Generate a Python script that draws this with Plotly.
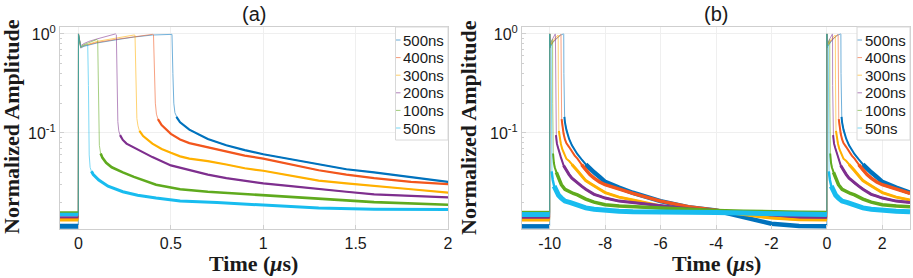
import plotly.graph_objects as go

# ---------------- data ----------------
SERIES = ["500ns", "400ns", "300ns", "200ns", "100ns", "50ns"]
COLORS = ["#0072BD", "#F2561D", "#FFB000", "#7E2F8E", "#5FAA1E", "#18BCEF"]

# time relative to pulse start (us) and normalized amplitude
t_500 = [-1.1, -0.001, 0, 0.012, 0.03, 0.056, 0.1, 0.2, 0.3, 0.4, 0.5, 0.506, 0.511, 0.516, 0.522, 0.53,
         0.54, 0.55, 0.6, 0.65, 0.7, 0.8, 0.9, 1.0, 1.15, 1.3, 1.45, 1.6, 1.8, 2.0, 2.5, 3, 4, 5, 6, 7, 8, 9, 10]
a_500 = [0.0114, 0.0114, 1.0, 0.72, 0.75, 0.77, 0.81, 0.87, 0.93, 0.975, 1.0, 0.99, 0.4, 0.2, 0.16, 0.145,
         0.135, 0.128, 0.108, 0.096, 0.087, 0.075, 0.067, 0.061, 0.054, 0.048, 0.043, 0.040, 0.036, 0.032, 0.028,
         0.0249, 0.0205, 0.0178, 0.0165, 0.0140, 0.0121, 0.0115, 0.0114]

t_400 = [-1.1, -0.001, 0, 0.012, 0.03, 0.056, 0.1, 0.2, 0.3, 0.4, 0.406, 0.411, 0.416, 0.422, 0.43, 0.45,
         0.5, 0.55, 0.6, 0.7, 0.8, 0.9, 1.0, 1.15, 1.3, 1.45, 1.6, 1.8, 2.0, 2.5, 3, 4, 5, 6, 7, 8, 9, 10]
a_400 = [0.0137, 0.0137, 1.0, 0.73, 0.76, 0.78, 0.82, 0.88, 0.94, 0.99, 0.98, 0.4, 0.2, 0.155, 0.138, 0.12,
         0.098, 0.086, 0.079, 0.072, 0.065, 0.059, 0.055, 0.048, 0.042, 0.038, 0.035, 0.032, 0.030, 0.027,
         0.0245, 0.0205, 0.018, 0.0166, 0.0153, 0.0142, 0.0138, 0.0137]

t_300 = [-1.1, -0.001, 0, 0.012, 0.03, 0.056, 0.1, 0.2, 0.3, 0.306, 0.311, 0.316, 0.322, 0.33, 0.35, 0.4,
         0.45, 0.5, 0.55, 0.6, 0.7, 0.8, 0.9, 1.0, 1.15, 1.3, 1.45, 1.6, 1.8, 2.0, 2.5, 3, 4, 5, 6, 7, 8, 9, 10]
a_300 = [0.0132, 0.0132, 1.0, 0.74, 0.77, 0.79, 0.84, 0.91, 0.975, 0.97, 0.35, 0.14, 0.118, 0.105, 0.093,
         0.078, 0.069, 0.063, 0.058, 0.055, 0.052, 0.048, 0.044, 0.0415, 0.037, 0.033, 0.031, 0.029, 0.027,
         0.025, 0.0225, 0.021, 0.0183, 0.017, 0.0163, 0.0150, 0.0138, 0.0133, 0.0132]

t_200 = [-1.1, -0.001, 0, 0.012, 0.03, 0.056, 0.1, 0.143, 0.2, 0.205, 0.209, 0.213, 0.218, 0.225, 0.24,
         0.26, 0.3, 0.35, 0.4, 0.5, 0.6, 0.7, 0.8, 0.9, 1.0, 1.15, 1.3, 1.45, 1.6, 1.8, 2.0, 2.5, 3, 4, 5, 6,
         7, 8, 9, 10]
a_200 = [0.0141, 0.0141, 1.0, 0.76, 0.8, 0.84, 0.89, 0.93, 1.0, 0.98, 0.3, 0.13, 0.105, 0.095, 0.085,
         0.078, 0.071, 0.063, 0.057, 0.047, 0.042, 0.038, 0.035, 0.033, 0.031, 0.029, 0.027, 0.0255, 0.024,
         0.023, 0.022, 0.0205, 0.0198, 0.0183, 0.0172, 0.0165, 0.0157, 0.0147, 0.0142, 0.0141]

t_100 = [-1.1, -0.001, 0, 0.012, 0.03, 0.056, 0.1, 0.104, 0.108, 0.113, 0.12, 0.13, 0.15, 0.18, 0.24, 0.3,
         0.42, 0.55, 0.7, 0.85, 1.0, 1.3, 1.6, 2.0, 2.5, 3, 4, 5, 6, 7, 8, 9, 10]
a_100 = [0.0157, 0.0157, 1.0, 0.74, 0.78, 0.82, 0.88, 0.86, 0.2, 0.075, 0.062, 0.056, 0.05, 0.045, 0.040,
         0.036, 0.030, 0.027, 0.0255, 0.0245, 0.0237, 0.0215, 0.020, 0.0188, 0.0183, 0.018, 0.0173, 0.0168,
         0.0165, 0.0162, 0.0159, 0.0158, 0.0157]

t_50 = [-1.1, -0.001, 0, 0.012, 0.03, 0.05, 0.054, 0.058, 0.063, 0.07, 0.08, 0.11, 0.16, 0.24, 0.32, 0.42,
        0.55, 0.75, 1.0, 1.3, 1.6, 2.0, 2.5, 3, 4, 5, 6, 7, 8, 9, 10]
a_50 = [0.0150, 0.0150, 1.0, 0.74, 0.76, 0.78, 0.3, 0.06, 0.045, 0.041, 0.038, 0.0335, 0.029, 0.0255,
        0.0235, 0.022, 0.0205, 0.0198, 0.0187, 0.0175, 0.017, 0.0165, 0.0162, 0.0160, 0.0160, 0.0158, 0.0157,
        0.0155, 0.0153, 0.0152, 0.0150]

TIMES = [t_500, t_400, t_300, t_200, t_100, t_50]
AMPS = [a_500, a_400, a_300, a_200, a_100, a_50]

PERIOD = 10.0            # pulse repetition period in panel (b), us
XA_TICKS = [0, 0.5, 1, 1.5, 2]
XA_LABELS = ["0", "0.5", "1", "1.5", "2"]
XB_TICKS = [-10, -8, -6, -4, -2, 0, 2]
XB_LABELS = ["-10", "-8", "-6", "-4", "-2", "0", "2"]
Y_TICKS = [0.1, 1]
Y_LABELS = ["10<sup>-1</sup>", "10<sup>0</sup>"]
Y_MINOR = [0.02, 0.03, 0.04, 0.05, 0.06, 0.07, 0.08, 0.09, 0.2, 0.3, 0.4, 0.5, 0.6, 0.7, 0.8, 0.9]

# ---------------- styles ----------------
W, H = 913, 278
NOISY_A = [0.53, 0.43, 0.33, 0.22, 0.12, 0.065]   # where the noisy (thick) tail starts, panel (a)
NOISY_B = [1.3, 1.15, 0.8, 0.5, 0.24, 0.16]       # same for panel (b)
WID_A = [2.2, 2.2, 2.2, 2.2, 2.6, 3.0]
BASE_A = [5.0, 2.0, 3.0, 2.0, 2.5, 3.5]
WID_B = [4.5, 3.5, 3.0, 3.0, 3.5, 5.0]
MID_B = [2.0, 2.0, 2.0, 2.0, 2.0, 2.5]


def px_x(p):
    return p / W


def px_y(p):
    return 1 - p / H


fig = go.Figure()


def seg(ts, vs, lo, hi, shift=0.0):
    xs, ys = [], []
    for t, v in zip(ts, vs):
        if lo <= t <= hi:
            xs.append(t + shift)
            ys.append(v)
    return xs, ys


for i, name in enumerate(SERIES):
    ts, vs, col = TIMES[i], AMPS[i], COLORS[i]
    # ---- panel (a)
    fig.add_trace(go.Scatter(x=ts, y=vs, mode="lines", line=dict(color=col, width=1), opacity=0.55,
                             name=name, showlegend=False, xaxis="x", yaxis="y"))
    bx, by = seg(ts, vs, -2, -0.0005)
    tx, ty = seg(ts, vs, NOISY_A[i], 20)
    fig.add_trace(go.Scatter(x=bx, y=by, mode="lines", line=dict(color=col, width=BASE_A[i]),
                             showlegend=False, xaxis="x", yaxis="y"))
    fig.add_trace(go.Scatter(x=tx, y=ty, mode="lines", line=dict(color=col, width=WID_A[i]),
                             showlegend=False, xaxis="x", yaxis="y"))
    # ---- panel (b): two periods
    x1, y1 = seg(ts, vs, -2, PERIOD, -PERIOD)
    x2, y2 = seg(ts, vs, 0, 3.5, 0.0)
    fig.add_trace(go.Scatter(x=x1 + x2, y=y1 + y2, mode="lines", line=dict(color=col, width=1), opacity=0.55,
                             showlegend=False, xaxis="x2", yaxis="y2"))
    mx1, my1 = seg(ts, vs, NOISY_A[i], PERIOD, -PERIOD)
    mx2, my2 = seg(ts, vs, NOISY_A[i], 3.5, 0.0)
    fig.add_trace(go.Scatter(x=mx1 + [None] + mx2, y=my1 + [None] + my2, mode="lines",
                             line=dict(color=col, width=MID_B[i]), connectgaps=False,
                             showlegend=False, xaxis="x2", yaxis="y2"))
    bx1, by1 = seg(ts, vs, -2, -0.0005, -PERIOD)
    nx1, ny1 = seg(ts, vs, NOISY_B[i], PERIOD, -PERIOD)
    nx2, ny2 = seg(ts, vs, NOISY_B[i], 3.5, 0.0)
    fig.add_trace(go.Scatter(x=bx1 + [None] + nx1 + [None] + nx2, y=by1 + [None] + ny1 + [None] + ny2,
                             mode="lines", line=dict(color=col, width=WID_B[i]), connectgaps=False,
                             showlegend=False, xaxis="x2", yaxis="y2"))

AX_LINE = "#cfcfcf"
TICK_FONT = dict(family="Liberation Sans, Arial, sans-serif", size=16, color="#1a1a1a")
TITLE_FONT = dict(family="Liberation Serif, Times New Roman, serif", size=22, color="#1a1a1a")

common_x = dict(showline=True, linecolor=AX_LINE, linewidth=1, mirror=True, ticks="inside", ticklen=4,
                tickcolor=AX_LINE, showgrid=True, gridcolor="#efefef", zeroline=False, tickfont=TICK_FONT,
                tickmode="array", automargin=False)
common_y = dict(type="log", range=[-1.97, 0.07], showline=True, linecolor=AX_LINE, linewidth=1, mirror=True,
                ticks="inside", ticklen=4, tickcolor=AX_LINE, showgrid=True, gridcolor="#efefef",
                zeroline=False, tickfont=TICK_FONT, tickmode="array", tickvals=Y_TICKS, ticktext=Y_LABELS,
                automargin=False,
                minor=dict(tickmode="array", tickvals=Y_MINOR, ticks="inside", ticklen=2, tickcolor=AX_LINE,
                           showgrid=False))

fig.update_layout(
    width=W, height=H, margin=dict(l=0, r=0, t=0, b=0, autoexpand=False), paper_bgcolor="white",
    plot_bgcolor="white", showlegend=False,
    xaxis=dict(domain=[px_x(60), px_x(448)], range=[-0.1, 2], tickvals=XA_TICKS, ticktext=XA_LABELS,
               anchor="y", **common_x),
    yaxis=dict(domain=[px_y(229), px_y(27)], anchor="x", **common_y),
    xaxis2=dict(domain=[px_x(522), px_x(910)], range=[-11, 3], tickvals=XB_TICKS, ticktext=XB_LABELS,
                anchor="y2", **common_x),
    yaxis2=dict(domain=[px_y(229), px_y(27)], anchor="x2", **common_y),
)

# panel titles and axis titles
for xc, txt in [((60 + 448) / 2, "(a)"), ((522 + 910) / 2, "(b)")]:
    fig.add_annotation(x=px_x(xc), y=px_y(14), xref="paper", yref="paper", text=txt, showarrow=False,
                       font=dict(family="Liberation Sans, Arial, sans-serif", size=20, color="#1a1a1a"),
                       xanchor="center", yanchor="middle")
    fig.add_annotation(x=px_x(xc), y=px_y(263), xref="paper", yref="paper", text="<b>Time (<i>μ</i>s)</b>",
                       showarrow=False, font=TITLE_FONT, xanchor="center", yanchor="middle")
for xc in [11, 468]:
    fig.add_annotation(x=px_x(xc), y=px_y(127), xref="paper", yref="paper", text="<b>Normalized Amplitude</b>",
                       showarrow=False, font=TITLE_FONT, textangle=-90, xanchor="center", yanchor="middle")

# legends (MATLAB style: short line stub + label inside a white box)
LEG_FONT = dict(family="Liberation Sans, Arial, sans-serif", size=15, color="#1a1a1a")
for left, right in [(395.5, 448), (857, 910)]:
    fig.add_shape(type="rect", xref="paper", yref="paper", x0=px_x(left), x1=px_x(right), y0=px_y(140),
                  y1=px_y(27), line=dict(color="#d8d8d8", width=1), fillcolor="white", layer="above")
    for k, name in enumerate(SERIES):
        yc = 40 + k * 17.6
        fig.add_shape(type="line", xref="paper", yref="paper", x0=px_x(left + 0.5), x1=px_x(left + 5),
                      y0=px_y(yc), y1=px_y(yc), line=dict(color=COLORS[k], width=1), layer="above",
                      opacity=0.6)
        fig.add_annotation(x=px_x(left + 5.5), y=px_y(yc), xref="paper", yref="paper", text=name,
                           showarrow=False, font=LEG_FONT, xanchor="left", yanchor="middle")

# the page's default body margin would shift the figure; remove it
fig.write_html("out.html", config={"displayModeBar": False},
               post_script="document.body.style.margin='0px';document.body.style.overflow='hidden';")
